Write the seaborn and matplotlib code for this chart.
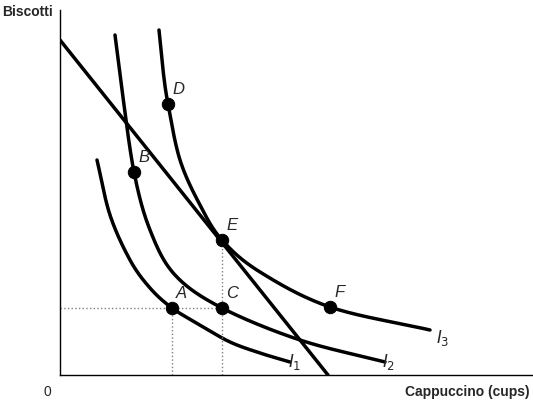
import numpy as np
import matplotlib
matplotlib.use("Agg")
import matplotlib.pyplot as plt
import seaborn as sns

sns.set_theme(style="white")
plt.rcParams['font.family'] = ['Liberation Sans', 'DejaVu Sans']

i1_x = [37, 50, 70, 90, 112, 140, 170, 200, 230]
i1_y = [215, 160, 115, 87, 67, 50, 33, 22, 13]
i2_x = [55, 62, 74, 90, 115, 162, 240, 325]
i2_y = [340, 285, 203, 145, 100, 67, 35, 13]
i3_x = [99, 103, 108, 120, 140, 162, 200, 270, 370]
i3_y = [345, 305, 271, 215, 170, 135, 103, 68, 45]
budget_x = [0, 268]
budget_y = [335, 0]
pt_names = ["A", "B", "C", "D", "E", "F"]
pt_x = [112, 74, 162, 108, 162, 270]
pt_y = [67, 203, 67, 271, 135, 68]

def smooth(xs, ys, n=30):
    P = np.column_stack([xs, ys]).astype(float)
    P = np.vstack([2*P[0]-P[1], P, 2*P[-1]-P[-2]])
    out = []
    t = np.linspace(0, 1, n)[:, None]
    for i in range(1, len(P)-2):
        p0, p1, p2, p3 = P[i-1], P[i], P[i+1], P[i+2]
        seg = 0.5*((2*p1) + (-p0+p2)*t + (2*p0-5*p1+4*p2-p3)*t**2 + (-p0+3*p1-3*p2+p3)*t**3)
        out.append(seg)
    S = np.vstack(out)
    return S[:, 0], S[:, 1]

fig = plt.figure(figsize=(5.33, 4.01), dpi=100)
ax = fig.add_axes([60/533, 26/401, 473/533, 365/401])
ax.set_xlim(0, 473)
ax.set_ylim(0, 365)
for s in ["top", "right"]:
    ax.spines[s].set_visible(False)
for s in ["left", "bottom"]:
    ax.spines[s].set_color("black")
    ax.spines[s].set_linewidth(1)
ax.set_xticks([]); ax.set_yticks([])

for xs, ys in [(i1_x, i1_y), (i2_x, i2_y), (i3_x, i3_y)]:
    sx, sy = smooth(xs, ys)
    sns.lineplot(x=sx, y=sy, sort=False, color="black", lw=2.5, ax=ax)
sns.lineplot(x=budget_x, y=budget_y, color="black", lw=2.5, ax=ax)

ax.plot([0, 162], [67, 67], ls=":", color="gray", lw=1)
ax.plot([112, 112], [0, 67], ls=":", color="gray", lw=1)
ax.plot([162, 162], [0, 135], ls=":", color="gray", lw=1)

sns.scatterplot(x=pt_x, y=pt_y, color="black", s=80, zorder=5, ax=ax, edgecolor="black")
for n, x, y in zip(pt_names, pt_x, pt_y):
    ax.text(x + 4, y + 7, n, style="italic", fontsize=12, ha="left", va="bottom")

ax.text(228, 8, "$I_1$", fontsize=12)
ax.text(322, 8, "$I_2$", fontsize=12)
ax.text(376, 32, "$I_3$", fontsize=12)

fig.text(2/533, 1 - 12/401, "Biscotti", fontweight="bold", fontsize=10, va="center")
fig.text(530/533, 1 - 392/401, "Cappuccino (cups)", fontweight="bold", fontsize=10, ha="right", va="center")
fig.text(47/533, 1 - 392/401, "0", fontsize=10, ha="center", va="center")

fig.savefig("out.png", dpi=100)
